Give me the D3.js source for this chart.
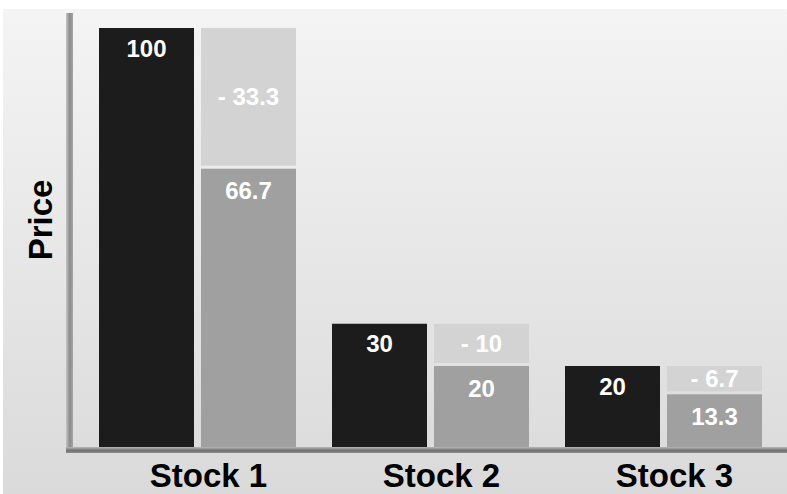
<!DOCTYPE html>
<html>
<head>
<meta charset="utf-8">
<script src="https://cdn.jsdelivr.net/npm/d3@7"></script>
<style>
  html, body { margin: 0; padding: 0; background: #ffffff; }
  svg { display: block; }
  text { font-family: Arial, "Liberation Sans", Helvetica, sans-serif; font-weight: bold; }
</style>
</head>
<body>
<svg id="chart" width="787" height="494"></svg>
<script>
// Price of each stock before, and the split after (remaining value + loss)
const categories = ["Stock 1", "Stock 2", "Stock 3"];
const priceBefore = [100, 30, 20];
const priceAfter  = [66.7, 20, 13.3];
const priceLoss   = [33.3, 10, 6.7];
const lossLabels  = ["- 33.3", "- 10", "- 6.7"];
const axisTitle   = "Price";

const W = 787, H = 494;
const svg = d3.select("#chart");
const defs = svg.append("defs");

// background panel gradient
const bg = defs.append("linearGradient").attr("id", "bgGrad")
  .attr("x1", 0).attr("y1", 0).attr("x2", 0).attr("y2", 1);
bg.append("stop").attr("offset", "0%").attr("stop-color", "#f4f4f4");
bg.append("stop").attr("offset", "100%").attr("stop-color", "#dadada");

// bevelled axis strokes
const gv = defs.append("linearGradient").attr("id", "axisV")
  .attr("x1", 0).attr("y1", 0).attr("x2", 1).attr("y2", 0);
gv.append("stop").attr("offset", "0%").attr("stop-color", "#c4c4c4");
gv.append("stop").attr("offset", "55%").attr("stop-color", "#8a8a8a");
gv.append("stop").attr("offset", "100%").attr("stop-color", "#a6a6a6");
const gh = defs.append("linearGradient").attr("id", "axisH")
  .attr("x1", 0).attr("y1", 0).attr("x2", 0).attr("y2", 1);
gh.append("stop").attr("offset", "0%").attr("stop-color", "#b8b8b8");
gh.append("stop").attr("offset", "60%").attr("stop-color", "#707070");
gh.append("stop").attr("offset", "100%").attr("stop-color", "#8e8e8e");

svg.append("rect").attr("x", 3).attr("y", 9).attr("width", W - 3).attr("height", H - 9)
  .attr("fill", "url(#bgGrad)");

// scales
const x = d3.scaleBand().domain(categories).range([81, 780])
  .paddingInner(36 / 233).paddingOuter(18 / 233);
const xs = d3.scaleBand().domain(["before", "after"]).range([0, x.bandwidth()])
  .paddingInner(7 / 102);
const y = d3.scaleLinear().domain([0, 100]).range([450.5, 28]);

const rows = categories.map((c, i) => ({
  cat: c, before: priceBefore[i], after: priceAfter[i], loss: priceLoss[i], lossLabel: lossLabels[i]
}));

const gap = 3;
const g = svg.append("g");
const grp = g.selectAll("g.grp").data(rows).join("g").attr("class", "grp")
  .attr("transform", d => `translate(${x(d.cat)},0)`);

// price before
grp.append("rect")
  .attr("x", xs("before")).attr("width", xs.bandwidth())
  .attr("y", d => y(d.before)).attr("height", d => y(0) - y(d.before))
  .attr("fill", "#1c1c1c");

// value lost (stacked on top)
grp.append("rect")
  .attr("x", xs("after")).attr("width", xs.bandwidth())
  .attr("y", d => y(d.after + d.loss))
  .attr("height", d => y(d.after) - y(d.after + d.loss) - gap)
  .attr("fill", "#d3d3d3");

// price after
grp.append("rect")
  .attr("x", xs("after")).attr("width", xs.bandwidth())
  .attr("y", d => y(d.after)).attr("height", d => y(0) - y(d.after))
  .attr("fill", "#a0a0a0");

const fs = 24;
const lbl = (sel) => sel.attr("text-anchor", "middle").attr("fill", "#ffffff")
  .attr("font-size", fs + "px").attr("dy", "0.36em");

grp.append("text").call(lbl)
  .attr("x", xs("before") + xs.bandwidth() / 2)
  .attr("y", d => y(d.before) + 20)
  .text(d => d.before);

grp.append("text").call(lbl)
  .attr("x", xs("after") + xs.bandwidth() / 2)
  .attr("y", d => (y(d.after + d.loss) + y(d.after) - gap) / 2)
  .text(d => d.lossLabel);

grp.append("text").call(lbl)
  .attr("x", xs("after") + xs.bandwidth() / 2)
  .attr("y", d => y(d.after) + 22)
  .text(d => d.after);

// axes
const yTop = 13, axisBottom = 447;
svg.append("rect").attr("x", 66).attr("y", yTop).attr("width", 7)
  .attr("height", axisBottom + 6 - yTop).attr("fill", "url(#axisV)");
svg.append("rect").attr("x", 66).attr("y", axisBottom).attr("width", W - 66)
  .attr("height", 6).attr("fill", "url(#axisH)");

const xAxis = svg.append("g").attr("transform", `translate(11,${axisBottom})`)
  .call(d3.axisBottom(x).tickSize(0).tickPadding(0));
xAxis.select(".domain").remove();
xAxis.selectAll("text")
  .attr("y", 40).attr("dy", null)
  .attr("fill", "#000000")
  .style("font-family", "Arial, 'Liberation Sans', sans-serif")
  .style("font-weight", "bold")
  .style("font-size", "33px");

svg.append("text")
  .attr("transform", `translate(52,220) rotate(-90)`)
  .attr("text-anchor", "middle")
  .attr("font-size", "33px").attr("fill", "#000")
  .text(axisTitle);
</script>
</body>
</html>
